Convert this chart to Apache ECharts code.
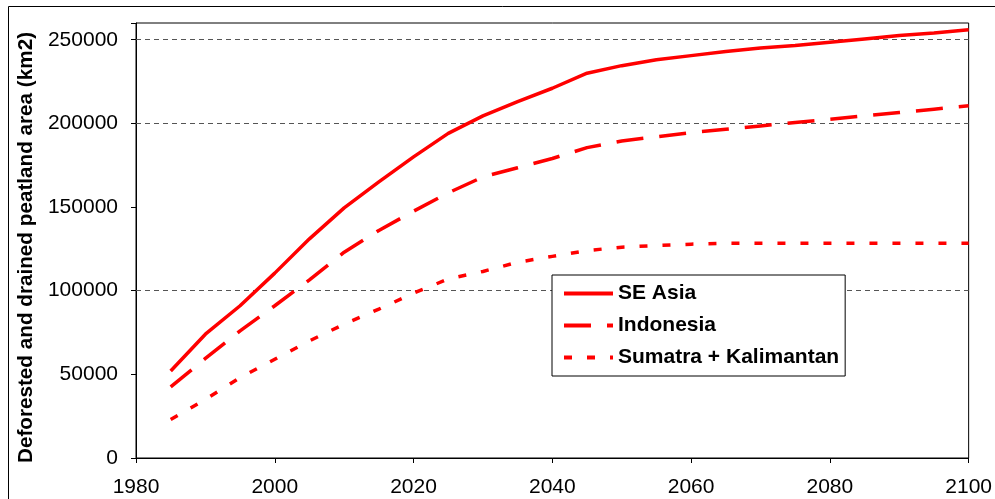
<!DOCTYPE html>
<html>
<head>
<meta charset="utf-8">
<script src="https://cdn.jsdelivr.net/npm/echarts@6/dist/echarts.min.js"></script>
<style>
html,body{margin:0;padding:0;background:#fff;}
#chart{width:995px;height:499px;}
</style>
</head>
<body>
<div id="chart"></div>
<script>
// ---- data ----
const years = [1985, 1990, 1995, 2000, 2005, 2010, 2015, 2020, 2025, 2030, 2035, 2040,
               2045, 2050, 2055, 2060, 2065, 2070, 2075, 2080, 2085, 2090, 2095, 2100];
const seAsia = [52000, 74000, 91000, 110500, 131000, 149500, 165000, 180000, 194000, 204500, 213000, 221000,
                230000, 234500, 238000, 240500, 243000, 245000, 246500, 248500, 250500, 252500, 254000, 256000];
const indonesia = [42500, 59500, 76000, 91000, 106500, 123000, 136000, 147500, 158500, 168000, 173500, 179000,
                   185500, 189500, 192000, 194500, 196500, 198500, 200500, 202500, 204500, 206500, 208500, 210500];
const sumatraKalimantan = [23000, 35000, 48000, 59000, 70000, 80000, 89000, 98500, 107000, 111500, 117000, 120500,
                           124000, 126000, 127000, 127800, 128300, 128300, 128300, 128300, 128300, 128300, 128300, 128300];
const seriesNames = ['SE Asia', 'Indonesia', 'Sumatra + Kalimantan'];
const gridLineValues = [100000, 200000, 250000];
const yTitle = 'Deforested and drained peatland area (km2)';

const pairs = arr => years.map((y, i) => [y, arr[i]]);
const FONT = '"Liberation Sans", Arial, sans-serif';
const RED = '#ff0000';

const chart = echarts.init(document.getElementById('chart'), null, {renderer: 'canvas'});
chart.setOption({
  animation: false,
  backgroundColor: '#fff',
  graphic: [{
    type: 'rect', z: -10,
    shape: {x: 8.5, y: 6.5, width: 1000, height: 510},
    style: {fill: 'none', stroke: '#000', lineWidth: 1}
  }],
  grid: {
    left: 136, right: 24, top: 23, bottom: 41,
    show: true, borderColor: '#000', borderWidth: 1, backgroundColor: 'transparent'
  },
  legend: {
    left: 552, top: 275,
    orient: 'vertical',
    data: seriesNames,
    backgroundColor: '#fff',
    borderColor: '#000', borderWidth: 1,
    padding: [8, 6, 8, 10],
    itemWidth: 49, itemHeight: 14, itemGap: 11,
    itemStyle: {opacity: 0},
    lineStyle: {width: 4},
    textStyle: {fontFamily: FONT, fontSize: 21, fontWeight: 'bold', color: '#000'}
  },
  xAxis: {
    type: 'value', min: 1980, max: 2100, interval: 20,
    axisLine: {show: true, lineStyle: {color: '#000', width: 1}},
    axisTick: {show: true, length: 5, lineStyle: {color: '#000'}},
    axisLabel: {fontFamily: FONT, fontSize: 21, color: '#000', margin: 19, formatter: v => String(v)},
    splitLine: {show: false}
  },
  yAxis: {
    type: 'value', min: 0, max: 260000, interval: 50000,
    name: yTitle, nameLocation: 'middle', nameGap: 97, nameRotate: 90,
    nameTextStyle: {fontFamily: FONT, fontSize: 20.7, fontWeight: 'bold', color: '#000', padding: [0, 0, 0, -14]},
    axisLine: {show: true, lineStyle: {color: '#000', width: 1}},
    axisTick: {show: true, length: 5, lineStyle: {color: '#000'}},
    axisLabel: {
      fontFamily: FONT, fontSize: 21, color: '#000', margin: 18,
      formatter: v => (v % 50000 === 0 ? String(v) : '')
    },
    splitLine: {show: false}
  },
  series: [
    {
      name: seriesNames[0], type: 'line', data: pairs(seAsia), symbol: 'none',
      lineStyle: {color: RED, width: 3.5, type: 'solid'}, itemStyle: {color: RED},
      z: 3,
      markLine: {
        silent: true, symbol: 'none', z: 1,
        label: {show: false},
        lineStyle: {color: '#555', width: 1, type: [5, 4]},
        data: gridLineValues.map(v => ({yAxis: v}))
      }
    },
    {
      name: seriesNames[1], type: 'line', data: pairs(indonesia), symbol: 'none',
      lineStyle: {color: RED, width: 3.5, type: [27, 16]}, itemStyle: {color: RED}, z: 3
    },
    {
      name: seriesNames[2], type: 'line', data: pairs(sumatraKalimantan), symbol: 'none',
      lineStyle: {color: RED, width: 3.5, type: [8, 15]}, itemStyle: {color: RED}, z: 3
    }
  ]
});
</script>
</body>
</html>
